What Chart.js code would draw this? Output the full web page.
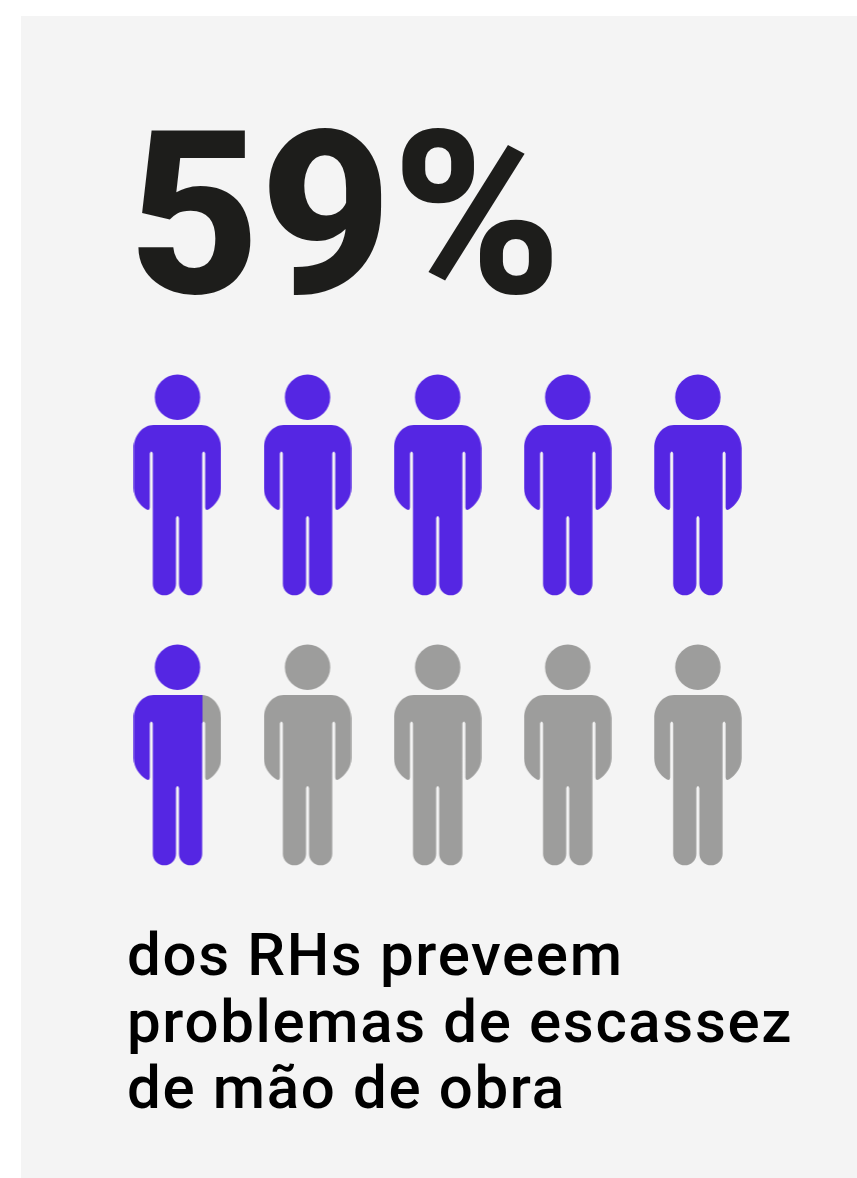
<!DOCTYPE html>
<html lang="pt">
<head>
<meta charset="utf-8">
<title>59%</title>
<script src="https://cdn.jsdelivr.net/npm/chart.js@4/dist/chart.umd.min.js"></script>
<style>
  html, body { margin: 0; height: 100%; background: #fff; overflow: hidden; }
  #panel { position: absolute; left: 21px; top: 16px; width: 836px; height: 1162px; background: #f4f4f4; }
  #pictogram { position: absolute; left: 0; top: 0; }
  h1, p { position: absolute; margin: 0; font-family: Roboto, sans-serif; white-space: pre; }
  h1 { left: 128px; top: 80px; font-size: 229px; line-height: 270px; font-weight: 800; color: #1d1d1b; }
  p { left: 127px; top: 922px; font-size: 60px; line-height: 66.7px; font-weight: 500; color: #000; letter-spacing: 1.65px; }
</style>
</head>
<body>
<div id="panel"></div>
<canvas id="pictogram" width="857" height="1178"></canvas>
<h1 id="headline"></h1>
<p id="caption"></p>
<script>
const headline = '59%';
const captionLines = ['dos RHs preveem', 'problemas de escassez', 'de mão de obra'];

// ten people, two rows of five; how much of each one is coloured in
const columns = [0, 1, 2, 3, 4];
const rows = [0, 1];
const personFill = [1, 1, 1, 1, 1, 0.9, 0, 0, 0, 0];

const ICON_W = 88;
const ICON_H = 222;
const ON_COLOR = '#5526e3';
const OFF_COLOR = '#9d9d9c';

function personPath() {
    const p = new Path2D();
    p.arc(44, 23.3, 22.7, 0, Math.PI * 2);
    p.moveTo(20, 51);
    p.bezierCurveTo(9, 51, 0.3, 62, 0.3, 74);
    p.lineTo(0.3, 114);
    p.bezierCurveTo(0.3, 124, 6, 131, 13, 135.5);
    p.quadraticCurveTo(16.3, 137, 16.3, 133.5);
    p.lineTo(16.3, 79.5);
    p.quadraticCurveTo(17.8, 75.5, 19.3, 79.5);
    p.lineTo(19.3, 209.7);
    p.arc(30.9, 209.7, 11.6, Math.PI, 0, true);
    p.lineTo(42.5, 144);
    p.quadraticCurveTo(44, 140, 45.5, 144);
    p.lineTo(45.5, 209.7);
    p.arc(57.1, 209.7, 11.6, Math.PI, 0, true);
    p.lineTo(68.7, 79.5);
    p.quadraticCurveTo(70.2, 75.5, 71.7, 79.5);
    p.lineTo(71.7, 133.5);
    p.quadraticCurveTo(71.7, 137, 75, 135.5);
    p.bezierCurveTo(82, 131, 87.7, 124, 87.7, 114);
    p.lineTo(87.7, 74);
    p.bezierCurveTo(87.7, 62, 79, 51, 68, 51);
    p.closePath();
    return p;
}

function newIconCanvas() {
    const c = document.createElement('canvas');
    c.width = ICON_W;
    c.height = ICON_H;
    return c;
}

// last column that keeps the given share of the silhouette's area on its left
function cutColumn(path, share) {
    const c = newIconCanvas();
    const g = c.getContext('2d', { willReadFrequently: true });
    g.fill(path);
    const px = g.getImageData(0, 0, ICON_W, ICON_H).data;
    const perColumn = new Array(ICON_W).fill(0);
    let total = 0;
    for (let i = 3, n = 0; i < px.length; i += 4, n++) {
        perColumn[n % ICON_W] += px[i];
        total += px[i];
    }
    let sum = 0;
    for (let x = 0; x < ICON_W; x++) {
        sum += perColumn[x];
        if (sum >= total * share) return x;
    }
    return ICON_W;
}

function personIcon(fill) {
    const path = personPath();
    const cut = fill >= 1 ? ICON_W : fill <= 0 ? 0 : cutColumn(path, fill);
    const c = newIconCanvas();
    const g = c.getContext('2d');
    g.save();
    g.beginPath();
    g.rect(0, 0, cut, ICON_H);
    g.clip();
    g.fillStyle = ON_COLOR;
    g.fill(path);
    g.restore();
    g.save();
    g.beginPath();
    g.rect(cut, 0, ICON_W - cut, ICON_H);
    g.clip();
    g.fillStyle = OFF_COLOR;
    g.fill(path);
    g.restore();
    return c;
}

document.getElementById('headline').textContent = headline;
document.getElementById('caption').textContent = captionLines.join('\n');

const people = [];
rows.forEach(r => columns.forEach(c => people.push({ x: c, y: r })));
const icons = personFill.map(personIcon);

new Chart(document.getElementById('pictogram').getContext('2d'), {
    type: 'scatter',
    data: {
        datasets: [{
            data: people,
            pointStyle: ctx => icons[ctx.dataIndex],
            clip: false
        }]
    },
    options: {
        responsive: false,
        animation: false,
        events: [],
        layout: {
            padding: { left: 112.4, right: 94.1, top: 350, bottom: 288 }
        },
        scales: {
            x: { display: false, min: -0.5, max: 4.5 },
            y: { display: false, min: -0.5, max: 1.5, reverse: true }
        },
        plugins: {
            legend: { display: false },
            tooltip: { enabled: false }
        }
    }
});
</script>
</body>
</html>
